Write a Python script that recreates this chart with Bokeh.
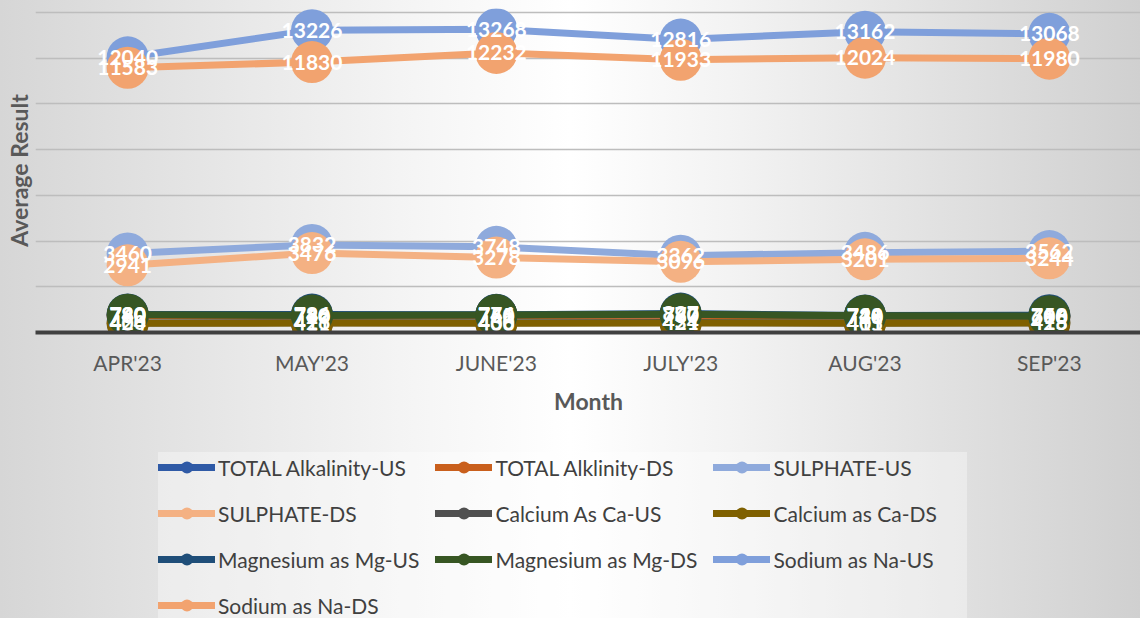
from bokeh.plotting import figure
from bokeh.models import (Range1d, FixedTicker, Legend, LegendItem, Title,
                          ColumnDataSource, InlineStyleSheet)
from bokeh.layouts import column
from bokeh.core.properties import value
from bokeh.embed import file_html
from bokeh.resources import INLINE

months = ["APR'23", "MAY'23", "JUNE'23", "JULY'23", "AUG'23", "SEP'23"]

series_names = ["TOTAL Alkalinity-US", "TOTAL Alklinity-DS", "SULPHATE-US",
                "SULPHATE-DS", "Calcium As Ca-US", "Calcium as Ca-DS",
                "Magnesium as Mg-US", "Magnesium as Mg-DS", "Sodium as Na-US",
                "Sodium as Na-DS"]

alk_us = [760, 730, 750, 770, 720, 700]
alk_ds = [740, 720, 745, 760, 710, 690]
so4_us = [3460, 3832, 3748, 3362, 3486, 3562]
so4_ds = [2941, 3476, 3278, 3096, 3201, 3244]
ca_us = [420, 426, 430, 434, 415, 425]
ca_ds = [404, 411, 406, 421, 401, 418]
mg_us = [790, 786, 776, 827, 748, 758]
mg_ds = [780, 746, 761, 797, 731, 716]
na_us = [12040, 13226, 13268, 12816, 13162, 13068]
na_ds = [11583, 11830, 12232, 11933, 12024, 11980]

series_values = [alk_us, alk_ds, so4_us, so4_ds, ca_us, ca_ds, mg_us, mg_ds, na_us, na_ds]
colors = ["#2F5AA6", "#C95F1C", "#8FAADC", "#F4B183", "#505050", "#7F6000",
          "#1F4E79", "#375623", "#7F9FDB", "#F2A36F"]
y_ticks = [0, 2000, 4000, 6000, 8000, 10000, 12000, 14000]

FONT = "Lato"
x_idx = list(range(len(months)))

p = figure(frame_width=1106, frame_height=324, output_backend="svg",
           toolbar_location=None,
           x_range=Range1d(-0.5, 5.5), y_range=Range1d(0, 14175),
           min_border_left=34, min_border_right=0, min_border_top=8,
           min_border_bottom=115, background_fill_color=None,
           border_fill_color=None, outline_line_color=None)

p.yaxis.visible = False
p.ygrid.ticker = FixedTicker(ticks=y_ticks)
p.ygrid.grid_line_color = "#BDBDBD"
p.ygrid.grid_line_width = 1.5
p.xgrid.grid_line_color = None

p.xaxis.ticker = FixedTicker(ticks=x_idx)
p.xaxis.major_label_overrides = {i: m for i, m in enumerate(months)}
p.xaxis.major_tick_line_color = None
p.xaxis.minor_tick_line_color = None
p.xaxis.axis_line_color = "#404040"
p.xaxis.axis_line_width = 4
p.xaxis.major_label_text_font = FONT
p.xaxis.major_label_text_font_size = "21px"
p.xaxis.major_label_text_color = "#595959"
p.xaxis.major_label_standoff = 11
p.xaxis.axis_label = "Month"
p.xaxis.axis_label_text_font = FONT
p.xaxis.axis_label_text_font_size = "23px"
p.xaxis.axis_label_text_font_style = "bold"
p.xaxis.axis_label_text_color = "#595959"
p.xaxis.axis_label_standoff = 9

p.add_layout(Title(text="Average Result", align="center", text_font=FONT,
                   text_font_size="23px", text_font_style="bold",
                   text_color="#595959", standoff=5), "left")

for vals, col in zip(series_values, colors):
    src = ColumnDataSource(dict(x=x_idx, y=vals))
    p.line("x", "y", source=src, line_color=col, line_width=7,
           line_cap="round", line_join="round")
    p.scatter("x", "y", source=src, size=42, fill_color=col, line_color=None)

for vals in series_values:
    src = ColumnDataSource(dict(x=x_idx, y=vals, t=[str(v) for v in vals]))
    p.text("x", "y", text="t", source=src, text_color="white",
           text_font=value(FONT), text_font_size="21px", text_font_style="bold",
           text_align="center", text_baseline="middle")

# legend strip below the chart (glyph samples only, no data marks drawn)
lg = figure(width=1140, height=171, output_backend="svg", toolbar_location=None,
            x_range=Range1d(0, 1), y_range=Range1d(0, 1),
            min_border_left=34, min_border_right=0, min_border_top=0,
            min_border_bottom=0, background_fill_color=None,
            border_fill_color=None, outline_line_color=None)
lg.axis.visible = False
lg.grid.visible = False
nan = float("nan")
items = []
for name, col in zip(series_names, colors):
    lr = lg.line(x=[nan], y=[nan], line_color=col, line_width=7, line_cap="round")
    sr = lg.scatter(x=[nan], y=[nan], size=11, fill_color=col, line_color=None)
    items.append(LegendItem(label=name, renderers=[lr, sr]))

legend = Legend(items=items, ncols=3, orientation="horizontal", location=(123, -2),
                label_text_font=FONT, label_text_font_size="21px",
                label_text_color="#404040", glyph_width=57, glyph_height=30,
                label_standoff=3, label_width=194, spacing=16, padding=9,
                margin=0, background_fill_color="white",
                background_fill_alpha=0.35, border_line_color=None)
lg.add_layout(legend, "center")

layout = column(p, lg, spacing=0)
layout.stylesheets = [InlineStyleSheet(css=":host { background: linear-gradient(to right, #d6d6d6 0%, #f4f4f4 35%, #ffffff 50%, #f2f2f2 65%, #d0d0d0 100%); }")]

open("out.html", "w").write(file_html(layout, INLINE))
